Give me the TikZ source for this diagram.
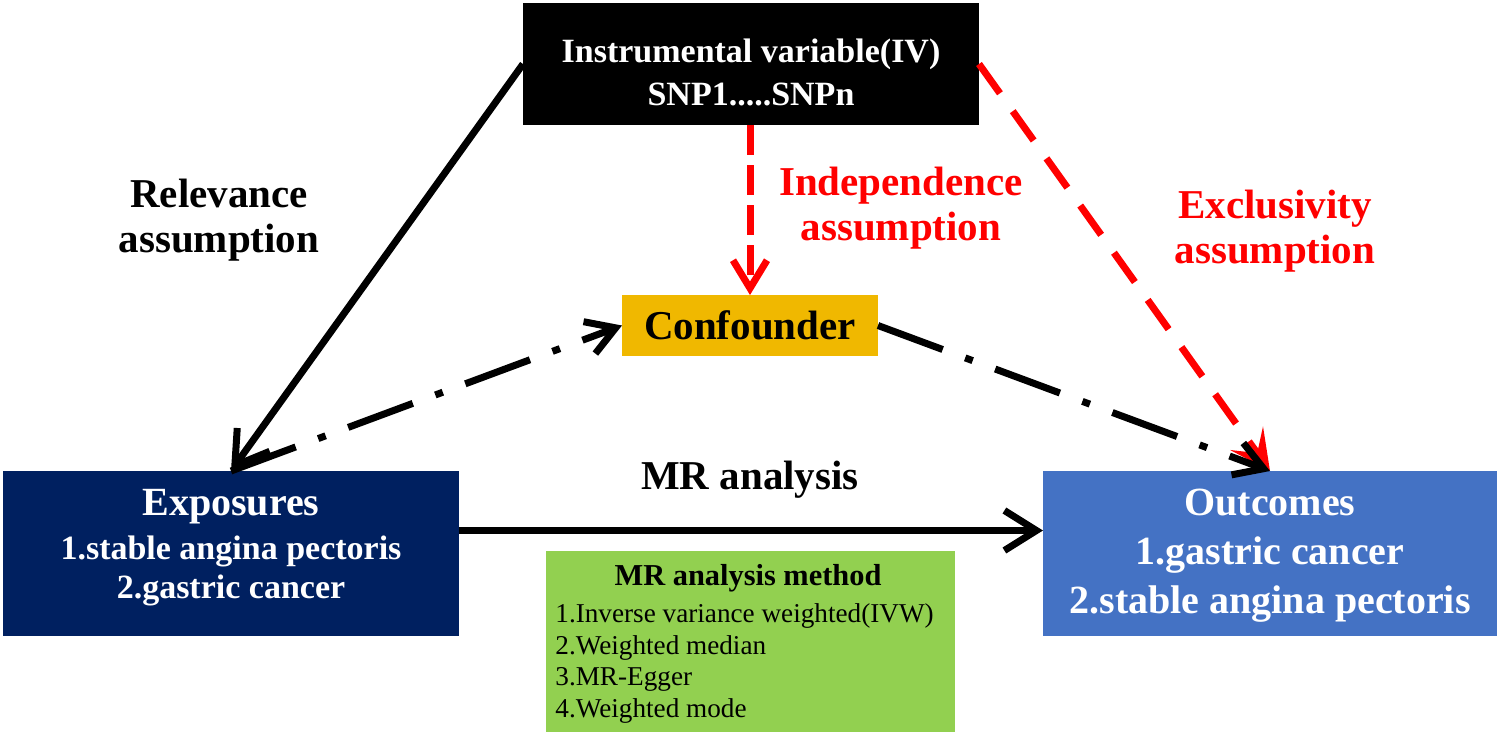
\documentclass[tikz,border=0pt]{standalone}
\usepackage{fontspec}
\setmainfont{Liberation Serif}
\usetikzlibrary{arrows.meta}
\definecolor{navyc}{HTML}{002060}
\definecolor{bluec}{HTML}{4472C4}
\definecolor{goldc}{HTML}{F0B800}
\definecolor{greenc}{HTML}{92D050}
\definecolor{redc}{HTML}{FF0000}
\begin{document}
\begin{tikzpicture}[x=0.5pt,y=-0.5pt,
  box/.style={draw=none, inner sep=0pt, outer sep=0pt},
  lab/.style={anchor=base, inner sep=0pt, outer sep=0pt, align=center,
    font=\bfseries\fontsize{20.5}{22.5}\selectfont},
  solidarrow/.style={line width=3.5pt, black,
    -{Straight Barb[length=16pt,width=20pt]}},
  dashdotarrow/.style={line width=3.5pt, black,
    dash pattern=on 34.5pt off 12pt on 4pt off 12pt,
    -{Straight Barb[length=14pt,width=17pt]}},
  reddashv/.style={line width=3.5pt, redc,
    dash pattern=on 15pt off 5pt,
    -{Straight Barb[length=14pt,width=17pt]}},
  reddashd/.style={line width=3.5pt, redc,
    dash pattern=on 18pt off 11pt,
    -{Stealth[length=20pt,width=20pt,inset=9pt]}}
  ]
\useasboundingbox (0,0) rectangle (1500,736);

% boxes
\node[box, fill=black, minimum width=228pt, minimum height=61pt] (iv) at (751,64) {};
\node[box, fill=goldc, minimum width=128pt, minimum height=30.5pt] (conf) at (750,325.5) {};
\node[box, fill=navyc, minimum width=228pt, minimum height=82.5pt] (exp) at (231,553.5) {};
\node[box, fill=bluec, minimum width=227pt, minimum height=82.5pt] (out) at (1270,553.5) {};
\node[box, fill=greenc, minimum width=204.5pt, minimum height=90.5pt] (meth) at (750.5,641.5) {};

% box texts (base anchor = baseline of the last line)
\node[lab, white, font=\bfseries\fontsize{17}{21.5}\selectfont] (ivt) at (751,105)
  {Instrumental variable(IV)\\SNP1.....SNPn};
\node[lab, black, font=\bfseries\fontsize{20.5}{22}\selectfont] (conft) at (750,339) {Confounder};
\node[lab, white, font=\bfseries\fontsize{17}{19.5}\selectfont] (expt) at (231,598)
  {{\fontsize{20}{22}\selectfont Exposures}\\[2.5pt]1.stable angina pectoris\\2.gastric cancer};
\node[lab, white, font=\bfseries\fontsize{20}{24.5}\selectfont] (outt) at (1270,613)
  {Outcomes\\1.gastric cancer\\2.stable angina pectoris};
\node[lab, black, font=\bfseries\fontsize{15.2}{17}\selectfont] (metht) at (748,585) {MR analysis method};
\node[anchor=base west, inner sep=0pt, align=left, black,
  font=\fontsize{13.6}{15.7}\selectfont] (methl) at (555,717)
  {1.Inverse variance weighted(IVW)\\2.Weighted median\\3.MR-Egger\\4.Weighted mode};

% labels
\node[lab, black] (rel) at (219,252) {Relevance\\assumption};
\node[lab, redc] (ind) at (901,240) {Independence\\assumption};
\node[lab, redc] (exc) at (1275,263) {Exclusivity\\assumption};
\node[lab, black] (mra) at (750,489) {MR analysis};

% connectors
\draw[reddashd] (iv.east) -- (out.north);
\draw[reddashv] (conf.north |- iv.south) -- (conf.north);
\draw[solidarrow] (iv.west) -- (exp.north);
\draw[dashdotarrow] (exp.north) -- (conf.west);
\draw[dashdotarrow] (conf.east) -- (out.north);
\draw[solidarrow] ([yshift=11.5pt]exp.east) -- ([yshift=11.5pt]out.west);
\end{tikzpicture}
\end{document}
